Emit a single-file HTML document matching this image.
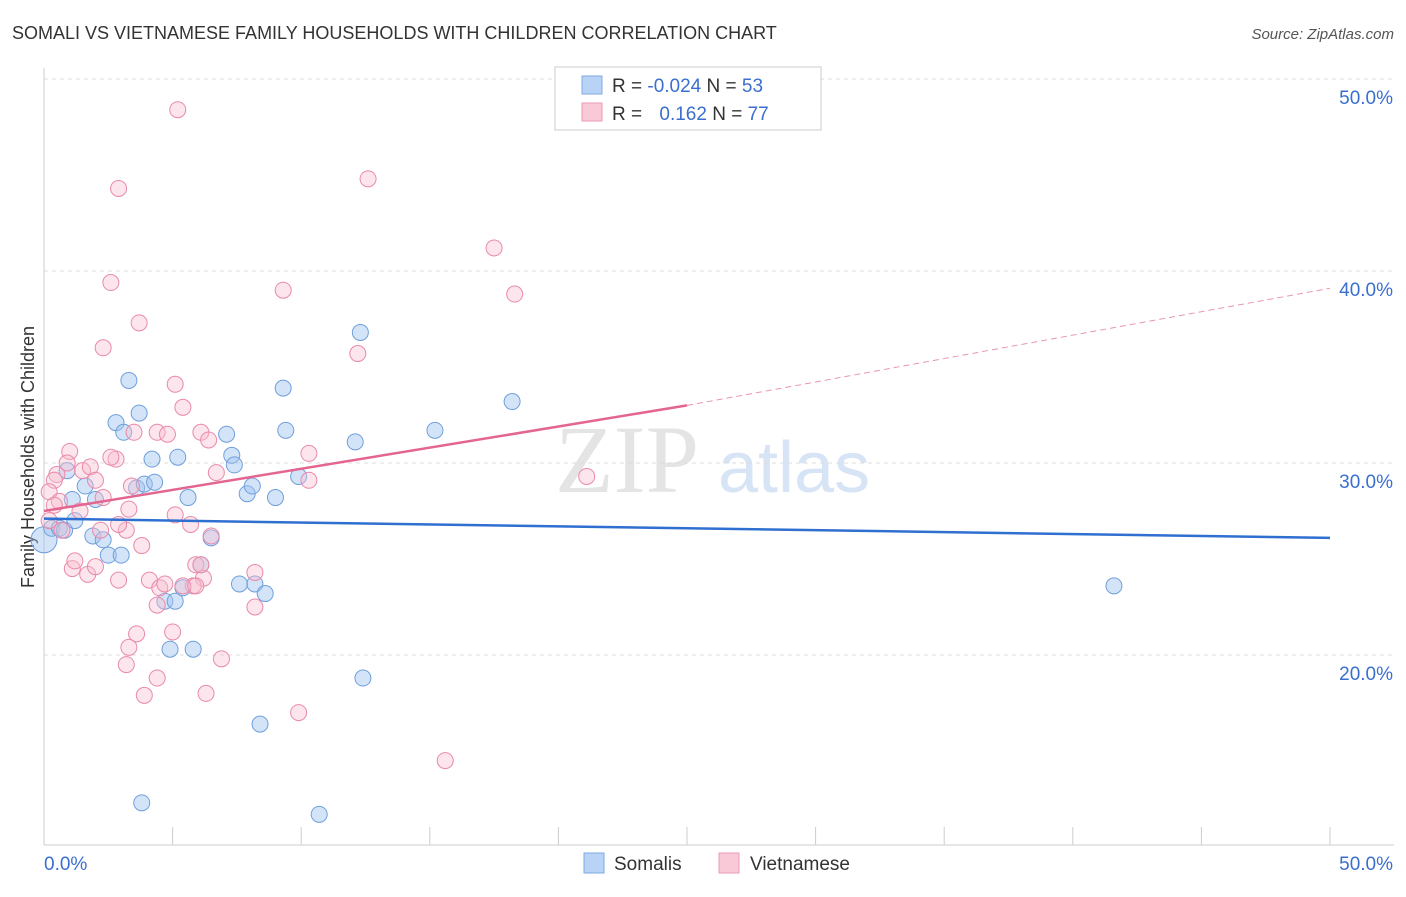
<!DOCTYPE html>
<html><head><meta charset="utf-8"><style>
body{margin:0;background:#fff;font-family:"Liberation Sans",sans-serif}
</style></head><body>
<svg id="c" width="1406" height="892" xmlns="http://www.w3.org/2000/svg" font-family="Liberation Sans, sans-serif">
<text x="12" y="39" font-size="18" fill="#333">SOMALI VS VIETNAMESE FAMILY HOUSEHOLDS WITH CHILDREN CORRELATION CHART</text>
<text x="1394" y="39" font-size="15" fill="#555" font-style="italic" text-anchor="end">Source: ZipAtlas.com</text>
<text x="0" y="0" transform="translate(34,457) rotate(-90)" font-size="18" fill="#333" text-anchor="middle">Family Households with Children</text>
<text x="555" y="492" font-size="96" fill="#e4e4e4" font-family="Liberation Serif, serif">ZIP</text>
<text x="718" y="492" font-size="72" fill="#d6e4f5">atlas</text>
<g id="grid"></g><g id="pts"></g><g id="lines"></g>
<g>
<rect x="555" y="67" width="266" height="63" fill="#fff" stroke="#ccc"/>
<rect x="582" y="76" width="20" height="18" fill="#b8d3f5" stroke="#7ea8e0"/>
<rect x="582" y="103" width="20" height="18" fill="#f9c9d8" stroke="#ec9ab4"/>
<text x="612" y="92" font-size="19" fill="#333">R = <tspan fill="#3a6fcf">-0.024</tspan>   N = <tspan fill="#3a6fcf">53</tspan></text>
<text x="612" y="120" font-size="19" fill="#333">R = <tspan fill="#3a6fcf" dx="12">0.162</tspan>   N = <tspan fill="#3a6fcf">77</tspan></text>
</g>
<g>
<rect x="584" y="853" width="20" height="20" fill="#b8d3f5" stroke="#7ea8e0"/>
<text x="614" y="870" font-size="19" fill="#333">Somalis</text>
<rect x="719" y="853" width="20" height="20" fill="#f9c9d8" stroke="#ec9ab4"/>
<text x="750" y="870" font-size="19" fill="#333">Vietnamese</text>
</g>
</svg>
<script>
const yTicks=[20,30,40,50];
const xTickLabels=["0.0%","50.0%"];
const somaliX=[0,0.3,0.6,0.8,0.9,1.1,1.2,1.6,1.9,2.0,2.3,2.5,2.8,3.0,3.1,3.3,3.6,3.7,3.9,4.2,4.3,4.7,4.9,5.1,5.2,5.4,5.6,5.8,6.1,6.5,7.1,7.3,7.4,7.6,7.9,8.1,8.2,8.4,8.6,9.0,9.3,9.4,9.9,10.7,3.8,12.1,12.3,12.4,15.2,18.2,41.6];
const somaliY=[26.0,26.6,26.6,26.5,29.6,28.1,27.0,28.8,26.2,28.1,26.0,25.2,32.1,25.2,31.6,34.3,28.7,32.6,28.9,30.2,29.0,22.8,20.3,22.8,30.3,23.5,28.2,20.3,24.7,26.1,31.5,30.4,29.9,23.7,28.4,28.8,23.7,16.4,23.2,28.2,33.9,31.7,29.3,11.7,12.3,31.1,36.8,18.8,31.7,33.2,23.6];
const vietX=[5.2,2.9,12.6,17.5,18.3,9.3,2.6,3.7,2.3,12.2,5.1,5.4,6.1,6.4,4.4,4.8,3.5,1.0,0.9,0.5,0.4,0.2,0.6,1.5,1.8,2.0,2.3,2.8,3.2,3.3,3.4,3.8,4.1,4.5,4.7,4.4,5.1,5.7,5.9,6.2,6.5,6.7,6.9,6.3,8.2,8.2,9.9,10.3,10.3,15.6,21.1,1.1,1.2,1.7,2.0,2.9,3.6,3.3,3.2,4.4,3.9,5.0,5.8,6.1,0.2,0.4,0.7,1.4,2.2,2.6,2.9,5.4,5.9];
const vietY=[48.4,44.3,44.8,41.2,38.8,39.0,39.4,37.3,36.0,35.7,34.1,32.9,31.6,31.2,31.6,31.5,31.6,30.6,30.0,29.4,29.1,28.5,28.0,29.6,29.8,29.1,28.2,30.2,26.5,27.6,28.8,25.7,23.9,23.5,23.7,22.6,27.3,26.8,24.7,24.0,26.2,29.5,19.8,18.0,24.3,22.5,17.0,30.5,29.1,14.5,29.3,24.5,24.9,24.2,24.6,23.9,21.1,20.4,19.5,18.8,17.9,21.2,23.6,24.7,27.0,27.8,26.5,27.5,26.5,30.3,26.8,23.6,23.6];
const blueLine=[27.1,26.1]; const pinkLine=[27.5,33.0,39.1];
const NS="http://www.w3.org/2000/svg";
const X=v=>44+v/50*1286, Y=v=>1039-v*19.2;
function mk(t,a,p){const e=document.createElementNS(NS,t);for(const k in a)e.setAttribute(k,a[k]);p.appendChild(e);return e;}
const g=document.getElementById('grid');
yTicks.forEach(t=>{const l=mk('line',{x1:44,x2:1394,y1:Y(t),y2:Y(t),stroke:'#ddd','stroke-dasharray':'4,4'},g);


const tx=mk('text',{x:1393,y:Y(t)+25,'font-size':19,fill:'#3a6fcf','text-anchor':'end'},g);tx.textContent=t.toFixed(1)+'%';

});
const ax=mk('line',{x1:44,x2:1394,y1:845,y2:845,stroke:'#ccc'},g);


const ay=mk('line',{x1:44,x2:44,y1:68,y2:845,stroke:'#ccc'},g);


for(let i=0;i<=10;i++){const t=mk('line',{x1:X(i*5),x2:X(i*5),y1:827,y2:845,stroke:'#ccc'},g);

}
const xl0=mk('text',{x:44,y:870,'font-size':19,fill:'#3a6fcf'},g);xl0.textContent=xTickLabels[0];


const xl1=mk('text',{x:1393,y:870,'font-size':19,fill:'#3a6fcf','text-anchor':'end'},g);xl1.textContent=xTickLabels[1];


const p=document.getElementById('pts');
somaliX.forEach((x,i)=>{const c=mk('circle',{cx:X(x),cy:Y(somaliY[i]),r:i==0?13:8,fill:'rgba(160,196,240,0.45)',stroke:'#6f9fdc','stroke-width':1},p);

});
vietX.forEach((x,i)=>{const c=mk('circle',{cx:X(x),cy:Y(vietY[i]),r:8,fill:'rgba(248,190,208,0.4)',stroke:'#e98aa9','stroke-width':1},p);

});
const L=document.getElementById('lines');
const b=mk('line',{x1:X(0),y1:Y(blueLine[0]),x2:X(50),y2:Y(blueLine[1]),stroke:'#2f6fd0','stroke-width':2.5},L);


const pk=mk('line',{x1:X(0),y1:Y(pinkLine[0]),x2:X(25),y2:Y(pinkLine[1]),stroke:'#e36590','stroke-width':2.5},L);


const pd=mk('line',{x1:X(25),y1:Y(pinkLine[1]),x2:X(50),y2:Y(pinkLine[2]),stroke:'#e895b0','stroke-width':1,'stroke-dasharray':'6,4'},L);


</script>
</body></html>
